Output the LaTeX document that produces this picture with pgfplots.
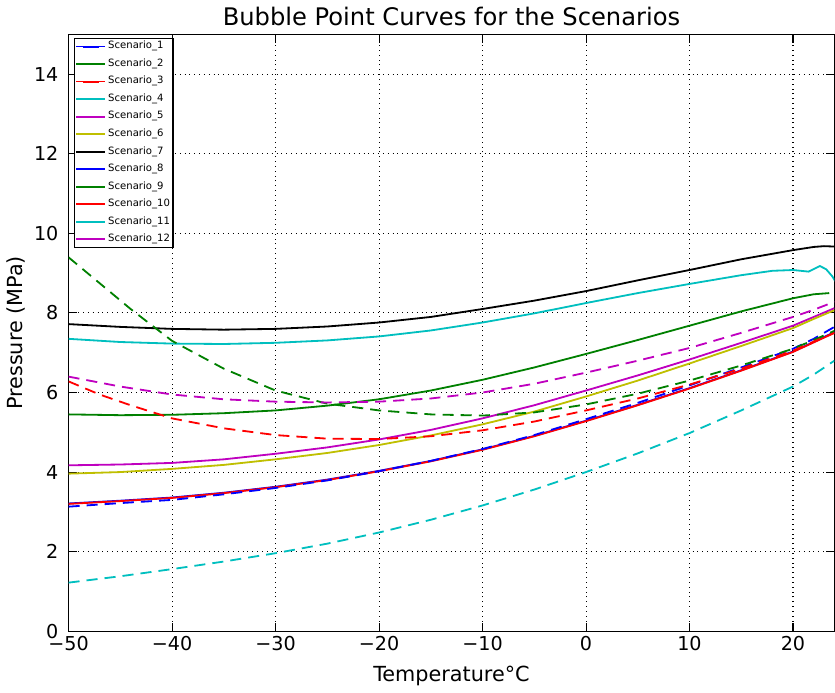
\documentclass[border=0pt]{standalone}
\usepackage{fontspec}
\setmainfont{DejaVu Sans}
\usepackage{pgfplots}
\pgfplotsset{compat=1.18}
\definecolor{mb}{rgb}{0,0,1}
\definecolor{mg}{rgb}{0,0.5,0}
\definecolor{mr}{rgb}{1,0,0}
\definecolor{mc}{rgb}{0,0.75,0.75}
\definecolor{mm}{rgb}{0.75,0,0.75}
\definecolor{my}{rgb}{0.75,0.75,0}
\begin{document}
\begin{tikzpicture}
\begin{axis}[
  scale only axis, width=380pt, height=296pt,
  xmin=-50, xmax=24, ymin=0, ymax=15,
  xtick={-50,-40,-30,-20,-10,0,10,20},
  xticklabels={−50,−40,−30,−20,−10,0,10,20},
  ytick={0,2,4,6,8,10,12,14},
  /pgf/number format/assume math mode=true,
  tick label style={font=\fontsize{9.5}{11}\selectfont},
  xticklabel style={yshift=1pt},
  yticklabel style={xshift=-1.5pt},
  label style={font=\fontsize{10.3}{12}\selectfont},
  title style={font=\fontsize{12}{14}\selectfont, yshift=-5pt},
  title={Bubble Point Curves for the Scenarios},
  xlabel={Temperature°C}, ylabel={Pressure (MPa)},
  xlabel style={yshift=-0.8pt}, ylabel style={yshift=-2.5pt},
  grid=major, major grid style={black, dotted, line width=0.5pt},
  axis line style={line width=0.6pt},
  tick style={black, line width=0.5pt}, major tick length=4pt,
  every axis plot/.append style={line width=0.9pt, no markers},
  legend style={at={(0.0066,0.995)}, anchor=north west, font=\fontsize{5}{6}\selectfont,
    draw=black, line width=0.6pt, row sep=1.4pt, inner sep=0.5pt,
    nodes={inner sep=1pt}},
  legend cell align=left,
  legend image code/.code={\path (0pt,0pt) -- (14.5pt,0pt);
    \draw[#1, line width=1pt, dash phase=7.5pt] (3.5pt,0pt) -- (11.5pt,0pt);},
]
% Scenario_1 blue solid
\addplot[mb] coordinates {(-50,3.21)(-45,3.28)(-40,3.36)(-35,3.48)(-30,3.63)(-25,3.81)(-20,4.03)(-15,4.28)(-10,4.57)(-5,4.91)(0,5.29)(5,5.69)(10,6.11)(15,6.56)(20,7.03)(22,7.27)(24,7.52)};
\addlegendentry{Scenario\_1}
% Scenario_2 green solid
\addplot[mg] coordinates {(-50,5.45)(-45,5.43)(-40,5.44)(-35,5.48)(-30,5.55)(-25,5.67)(-20,5.83)(-15,6.05)(-10,6.32)(-5,6.63)(0,6.97)(5,7.32)(10,7.68)(15,8.04)(20,8.37)(22,8.47)(23.5,8.5)};
\addlegendentry{Scenario\_2}
% Scenario_3 red solid
\addplot[mr] coordinates {(-50,3.2)(-45,3.27)(-40,3.35)(-35,3.47)(-30,3.62)(-25,3.8)(-20,4.02)(-15,4.27)(-10,4.56)(-5,4.9)(0,5.28)(5,5.68)(10,6.1)(15,6.55)(20,7.02)(22,7.26)(24,7.5)};
\addlegendentry{Scenario\_3}
% Scenario_4 cyan solid
\addplot[mc] coordinates {(-50,7.35)(-45,7.27)(-40,7.23)(-35,7.22)(-30,7.25)(-25,7.31)(-20,7.41)(-15,7.56)(-10,7.76)(-5,7.99)(0,8.25)(5,8.5)(10,8.73)(15,8.95)(18,9.06)(20,9.08)(21.5,9.04)(22.6,9.18)(23.2,9.1)(23.8,8.92)(24.2,8.75)};
\addlegendentry{Scenario\_4}
% Scenario_5 magenta solid
\addplot[mm] coordinates {(-50,4.17)(-45,4.19)(-40,4.23)(-35,4.32)(-30,4.46)(-25,4.62)(-20,4.82)(-15,5.06)(-10,5.35)(-5,5.68)(0,6.05)(5,6.43)(10,6.83)(15,7.25)(20,7.68)(22,7.9)(24,8.12)};
\addlegendentry{Scenario\_5}
% Scenario_6 yellow solid
\addplot[my] coordinates {(-50,3.96)(-45,4.0)(-40,4.08)(-35,4.18)(-30,4.32)(-25,4.48)(-20,4.68)(-15,4.92)(-10,5.2)(-5,5.52)(0,5.9)(5,6.3)(10,6.73)(15,7.17)(20,7.62)(22,7.85)(24,8.07)};
\addlegendentry{Scenario\_6}
% Scenario_7 black solid
\addplot[black] coordinates {(-50,7.72)(-45,7.65)(-40,7.6)(-35,7.58)(-30,7.6)(-25,7.66)(-20,7.76)(-15,7.9)(-10,8.1)(-5,8.31)(0,8.55)(5,8.82)(10,9.08)(15,9.35)(20,9.58)(22,9.66)(23,9.68)(24,9.67)};
\addlegendentry{Scenario\_7}
% Scenario_8 blue dashed
\addplot[mb, dash pattern=on 5.5pt off 3.5pt] coordinates {(-50,3.13)(-45,3.22)(-40,3.3)(-35,3.44)(-30,3.6)(-25,3.79)(-20,4.02)(-15,4.28)(-10,4.58)(-5,4.93)(0,5.33)(5,5.74)(10,6.18)(15,6.63)(20,7.1)(22,7.35)(24,7.65)};
\addlegendentry{Scenario\_8}
% Scenario_9 green dashed
\addplot[mg, dash pattern=on 5.5pt off 3.5pt] coordinates {(-50,9.4)(-47,8.75)(-44,8.1)(-40,7.3)(-35,6.6)(-30,6.05)(-25,5.72)(-20,5.55)(-15,5.45)(-10,5.42)(-5,5.5)(0,5.7)(5,5.97)(10,6.3)(15,6.68)(20,7.1)(22,7.32)(24,7.55)};
\addlegendentry{Scenario\_9}
% Scenario_10 red dashed
\addplot[mr, dash pattern=on 5.5pt off 3.5pt] coordinates {(-50,6.28)(-47,5.95)(-44,5.68)(-40,5.35)(-35,5.1)(-30,4.93)(-25,4.84)(-20,4.83)(-15,4.9)(-10,5.05)(-5,5.27)(0,5.55)(5,5.85)(10,6.2)(15,6.6)(20,7.05)(22,7.28)(24,7.5)};
\addlegendentry{Scenario\_10}
% Scenario_11 cyan dashed
\addplot[mc, dash pattern=on 5.5pt off 3.5pt] coordinates {(-50,1.22)(-45,1.38)(-40,1.56)(-35,1.75)(-30,1.96)(-25,2.2)(-20,2.48)(-15,2.8)(-10,3.16)(-5,3.56)(0,4.0)(5,4.47)(10,4.98)(15,5.55)(20,6.15)(22,6.45)(24,6.8)};
\addlegendentry{Scenario\_11}
% Scenario_12 magenta dashed
\addplot[mm, dash pattern=on 5.5pt off 3.5pt] coordinates {(-50,6.4)(-45,6.15)(-40,5.95)(-35,5.83)(-30,5.77)(-25,5.75)(-20,5.77)(-15,5.85)(-10,6.0)(-5,6.22)(0,6.5)(5,6.8)(10,7.12)(15,7.5)(20,7.9)(22,8.08)(24,8.28)};
\addlegendentry{Scenario\_12}
\end{axis}
\end{tikzpicture}
\end{document}
